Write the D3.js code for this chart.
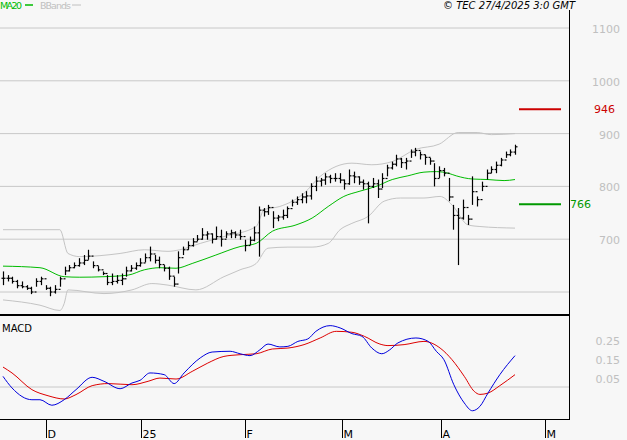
<!DOCTYPE html>
<html><head><meta charset="utf-8">
<script src="https://cdn.jsdelivr.net/npm/d3@7"></script>
<style>body{margin:0;background:#f7f7f7}svg{display:block;font-family:"DejaVu Sans",sans-serif}</style>
</head><body><svg id="c" width="627" height="440"></svg>
<script>
// daily bars: high, low, close (open tick = previous close)
const high = [639,632,629,623,620,613,610,626,629,613,610,613,629,648,651,656,664,670,680,658,649,639,632,635,632,635,648,651,656,664,673,686,670,667,651,648,629,677,686,696,702,708,721,715,711,724,718,715,718,715,718,699,705,724,762,759,765,753,746,756,762,775,781,787,791,806,819,816,825,822,825,825,813,832,828,819,813,809,816,813,825,841,847,860,854,854,870,873,866,860,854,844,838,835,816,765,759,775,746,819,781,809,832,838,847,854,866,870,879];
const low = [613,620,616,607,607,604,596,610,613,604,592,597,610,632,639,645,648,651,661,645,639,632,613,613,616,613,629,639,642,648,656,658,654,645,639,623,610,635,670,680,686,696,699,699,692,699,686,702,702,702,699,677,689,696,667,743,746,721,734,737,740,762,765,768,768,775,791,800,803,806,809,806,794,803,806,803,794,730,797,778,797,819,832,838,835,832,854,857,851,841,841,800,816,819,772,718,651,737,727,765,762,791,813,825,825,838,854,857,860];
const close = [626,626,620,612,610,607,600,620,625,607,600,605,625,640,646,650,655,660,668,650,642,635,618,620,622,625,640,645,650,655,665,672,660,652,645,630,615,665,680,688,695,700,708,710,700,705,700,710,712,708,705,688,698,712,755,752,760,740,742,745,758,770,775,780,782,800,810,812,818,815,815,812,805,820,818,808,805,800,805,795,815,835,842,852,845,848,865,868,860,855,848,815,830,825,780,745,740,760,738,790,775,800,825,832,840,850,860,865,875];
// [bar index, value]
const ma20 = [[0,649],[7.8,646],[12.9,629],[16.2,628],[21.3,629],[26.4,632],[29.8,642],[33.1,646],[36.5,645],[39.9,654],[44.9,670],[50,686],[53.4,692],[56.8,715],[61.8,727],[65.2,740],[68.6,762],[71.9,781],[75.3,791],[78.7,800],[82.1,813],[85.4,820],[88.8,827],[91.4,828],[93.9,825],[95.6,820],[99,814],[102.3,813],[105.7,811],[108,813]];
const bbUpper = [[0,718],[12,718],[13.7,673],[16.2,667],[24.7,673],[29.8,680],[34.8,677],[37.3,680],[41.6,692],[46.6,705],[53.4,724],[55.1,756],[58.4,762],[63.5,787],[66.9,819],[73.6,844],[77.8,841],[82.1,847],[87,870],[92,880],[96,902],[100,902],[103,898],[108,900]];
const bbLower = [[0,585],[7.8,575],[12,565],[12.9,578],[13.7,604],[21.3,597],[27.2,604],[31.4,616],[34.8,613],[40.7,604],[46.6,629],[50,642],[53.4,654],[55.9,683],[60.1,685],[65.2,685],[68.6,692],[71.1,718],[73.6,730],[77,743],[80.4,772],[83.8,778],[88.8,778],[92.2,781],[94.7,765],[98.1,727],[100.6,724],[108,721]];
const macd = [[0,0.106],[1.9,0.045],[6.1,-0.017],[7.8,-0.017],[10.3,-0.046],[12.9,-0.017],[15.4,0.036],[18.8,0.101],[21.3,0.080],[24.7,0.041],[27.2,0.071],[28.9,0.085],[31,0.124],[34,0.115],[36.1,0.068],[38.2,0.124],[41.6,0.203],[44.1,0.234],[47.9,0.238],[50,0.225],[52.1,0.215],[54.2,0.246],[55.9,0.276],[58.4,0.261],[60.1,0.264],[62.2,0.290],[64.3,0.303],[66,0.343],[69,0.373],[71.1,0.361],[73.6,0.331],[75.7,0.317],[77.8,0.255],[79.9,0.225],[81.6,0.246],[83.3,0.282],[87.1,0.308],[89.7,0.290],[91.4,0.238],[93,0.194],[95.1,0.062],[97.3,-0.034],[99,-0.075],[100.6,-0.052],[102.3,0.018],[104.8,0.115],[108,0.215]];
const signal = [[0,0.155],[1.9,0.124],[6.1,0.036],[9.5,0.004],[12.9,-0.013],[15.4,0.010],[18.8,0.057],[22.2,0.068],[27.2,0.062],[30.6,0.080],[33.1,0.097],[36.5,0.092],[39.9,0.132],[43.2,0.176],[46.6,0.211],[50,0.220],[53.4,0.225],[56.8,0.250],[60.1,0.255],[63.5,0.273],[66.9,0.308],[70.3,0.343],[73.6,0.338],[76.2,0.317],[79.5,0.276],[81.2,0.268],[84.6,0.273],[88.8,0.290],[92.2,0.255],[94.7,0.194],[97.3,0.106],[99.4,0.027],[100.6,0.011],[102.3,0.018],[104.8,0.057],[108,0.115]];
const monthTicks = [9.1,29.1,51,71.5,92.4,114.3];
const monthLabels = ["D","25","F","M","A","M"];
const priceTicks = [600,700,800,900,1000,1100];
const macdTicks = [0.05,0.15,0.25];
const targets = [{v:946,c:"#cc0000"},{v:766,c:"#009900"}];

const svg = d3.select("#c");
const x = d3.scaleLinear().domain([0,108]).range([3,515]);
const y = d3.scaleLinear().domain([600,1100]).range([292,28]);
const ym = d3.scaleLinear().domain([0.05,0.25]).range([387,349]);

// grid
svg.selectAll(".g").data(priceTicks).join("line")
  .attr("x1",0).attr("x2",569).attr("y1",d=>y(d)).attr("y2",d=>y(d))
  .attr("stroke","#c8c8c8");
svg.selectAll(".pl").data(priceTicks.slice(1)).join("text")
  .attr("x",620).attr("y",d=>y(d)+5).attr("text-anchor","end")
  .attr("font-size",11).attr("fill","#c0c0c0").text(d=>d);
svg.append("line").attr("x1",0).attr("x2",569).attr("y1",ym(0.05)).attr("y2",ym(0.05)).attr("stroke","#c8c8c8");
svg.selectAll(".ml").data(macdTicks).join("text")
  .attr("x",620).attr("y",d=>ym(d)-4).attr("text-anchor","end")
  .attr("font-size",11).attr("fill","#c0c0c0").text(d=>d.toFixed(2));

const line = d3.line().x(d=>x(d[0])).y(d=>y(d[1])).curve(d3.curveMonotoneX);
svg.append("path").attr("d",line(bbUpper)).attr("fill","none").attr("stroke","#c4c4c4");
svg.append("path").attr("d",line(bbLower)).attr("fill","none").attr("stroke","#c4c4c4");
svg.append("path").attr("d",line(ma20)).attr("fill","none").attr("stroke","#00bb00").attr("stroke-width",1);

// bars
const bars = svg.append("g").attr("stroke","#000").attr("stroke-width",1.2);
high.forEach((h,i)=>{
  const xi = Math.round(x(i))+0.5;
  const open = i ? close[i-1] : close[i];
  bars.append("line").attr("x1",xi).attr("x2",xi).attr("y1",y(h)).attr("y2",y(low[i]));
  bars.append("line").attr("x1",xi-2).attr("x2",xi).attr("y1",y(open)).attr("y2",y(open));
  bars.append("line").attr("x1",xi).attr("x2",xi+2).attr("y1",y(close[i])).attr("y2",y(close[i]));
});

// target lines
targets.forEach(t=>{
  svg.append("line").attr("x1",519).attr("x2",561).attr("y1",y(t.v)).attr("y2",y(t.v))
    .attr("stroke",t.c).attr("stroke-width",2);
});
svg.append("text").attr("x",594).attr("y",y(946)+4).attr("font-size",11).attr("fill","#cc0000").text("946");
svg.append("text").attr("x",570).attr("y",y(766)+4).attr("font-size",11).attr("fill","#009900").text("766");

// MACD
const mline = d3.line().x(d=>x(d[0])).y(d=>ym(d[1])).curve(d3.curveMonotoneX);
svg.append("path").attr("d",mline(signal)).attr("fill","none").attr("stroke","#dd0000");
svg.append("path").attr("d",mline(macd)).attr("fill","none").attr("stroke","#0000dd");
svg.append("text").attr("x",2).attr("y",332).attr("font-size",10).attr("fill","#000").text("MACD");

// frame
svg.append("line").attr("x1",0).attr("x2",569).attr("y1",315).attr("y2",315).attr("stroke","#000").attr("stroke-width",2);
svg.append("line").attr("x1",0).attr("x2",569).attr("y1",419.5).attr("y2",419.5).attr("stroke","#000");
svg.append("line").attr("x1",569.5).attr("x2",569.5).attr("y1",10).attr("y2",420).attr("stroke","#000");

// month axis
monthTicks.forEach((m,i)=>{
  const xi = Math.round(x(m))+0.5;
  svg.append("line").attr("x1",xi).attr("x2",xi).attr("y1",420).attr("y2",438).attr("stroke","#000");
  svg.append("text").attr("x",xi+1).attr("y",438).attr("font-size",11).text(monthLabels[i]);
});

// legend
svg.append("text").attr("x",0).attr("y",9).attr("font-size",9.5).attr("textLength",22).attr("fill","#00bb00").text("MA20");
svg.append("line").attr("x1",25).attr("x2",33).attr("y1",5).attr("y2",5).attr("stroke","#00bb00").attr("stroke-width",1.5);
svg.append("text").attr("x",40).attr("y",9).attr("font-size",9.5).attr("textLength",31).attr("fill","#c0c0c0").text("BBands");
svg.append("line").attr("x1",72).attr("x2",81).attr("y1",5).attr("y2",5).attr("stroke","#c0c0c0");
svg.append("text").attr("x",575).attr("y",9).attr("text-anchor","end").attr("font-size",10)
  .attr("font-style","italic").text("© TEC 27/4/2025 3:0 GMT");
</script></body></html>
